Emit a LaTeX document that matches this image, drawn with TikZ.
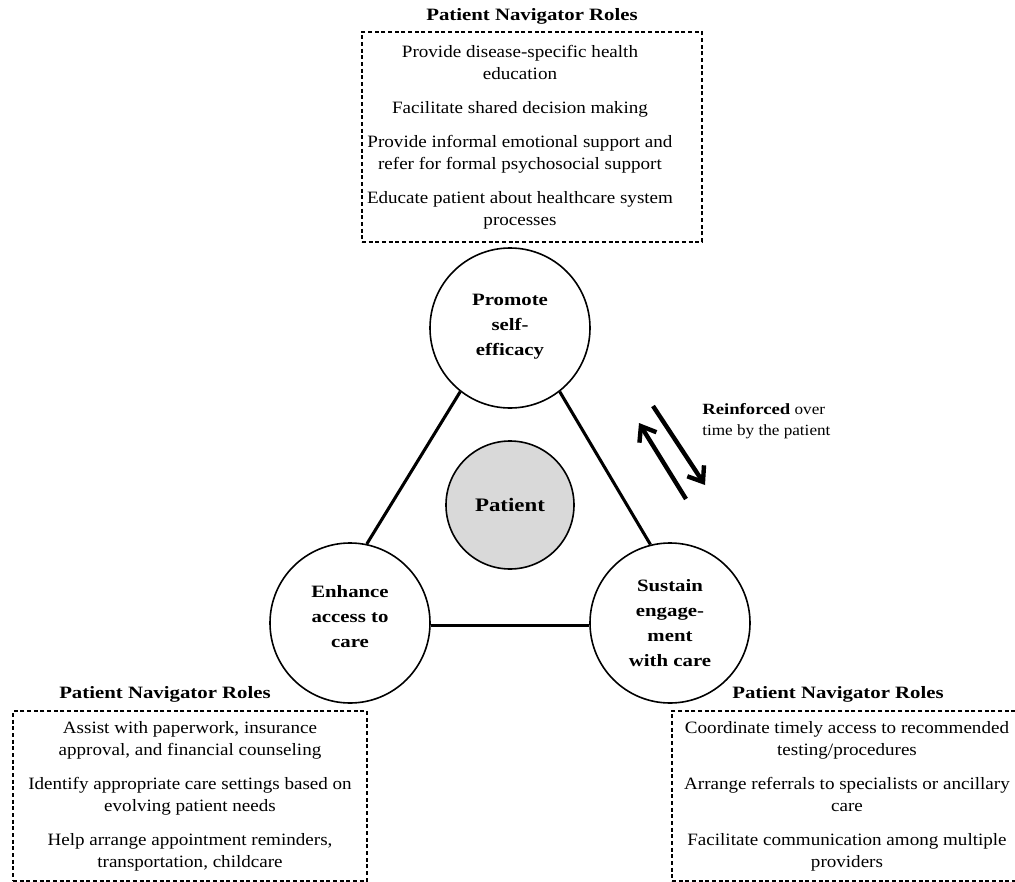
\documentclass[tikz,border=0pt]{standalone}
\usepackage{fontspec}
\setmainfont{Liberation Serif}[UprightFeatures={FakeStretch=1.1}, BoldFeatures={FakeStretch=1.2}]
\usetikzlibrary{arrows.meta}
\tikzset{
  circ/.style={circle, draw, line width=1.2pt, minimum size=120pt, inner sep=0pt, align=center, font=\fontsize{13}{18.75}\selectfont\bfseries},
  link/.style={line width=2.3pt},
  dashbox/.style={draw, dash pattern=on 3pt off 2pt, line width=0.9pt, inner sep=0pt},
  boxtext/.style={align=center, inner sep=0pt, font=\fontsize{13}{16.5}\selectfont},
  boxtitle/.style={font=\fontsize{13}{16}\selectfont\bfseries},
  reinf/.style={line width=3.3pt, -{Straight Barb[length=10pt,width=15pt]}},
}
\begin{document}
\begin{tikzpicture}[x=0.75pt,y=-0.75pt]
\useasboundingbox (0,0) rectangle (1015,882);
% titles
\node[boxtitle] (t1) at (532,16) {Patient Navigator Roles};
\node[boxtitle] (t2) at (165,694) {Patient Navigator Roles};
\node[boxtitle] (t3) at (838,694) {Patient Navigator Roles};
% boxes
\node[dashbox, minimum width=255pt, minimum height=157.5pt] (b1) at (532,137) {};
\node[boxtext] (b1t) at (520,137)
 {Provide disease-specific health\\education\\[9pt]
  Facilitate shared decision making\\[9pt]
  Provide informal emotional support and\\refer for formal psychosocial support\\[9pt]
  Educate patient about healthcare system\\processes};
\node[dashbox, minimum width=265.5pt, minimum height=127.5pt] (b2) at (190,796) {};
\node[boxtext] (b2t) at (190,796)
 {Assist with paperwork, insurance\\approval, and financial counseling\\[9pt]
  Identify appropriate care settings based on\\evolving patient needs\\[9pt]
  Help arrange appointment reminders,\\transportation, childcare};
\node[dashbox, minimum width=262.5pt, minimum height=127.5pt] (b3) at (847,796) {};
\node[boxtext] (b3t) at (847,796)
 {Coordinate timely access to recommended\\testing/procedures\\[9pt]
  Arrange referrals to specialists or ancillary\\care\\[9pt]
  Facilitate communication among multiple\\providers};
% circles
\node[circ, text depth=5pt] (top) at (510,328) {Promote\\self-\\efficacy};
\node[circ, text depth=10pt] (left) at (350,623) {Enhance\\access to\\care};
\node[circ] (right) at (670,623) {Sustain\\engage-\\ment\\with care};
\node[circle, draw, line width=1.2pt, fill=black!15, minimum width=96pt, inner sep=0pt,
      font=\fontsize{14.3}{17}\selectfont\bfseries] (patient) at (510,505) {Patient};
% connectors
\draw[link] (top.232) -- (left.78);
\draw[link] (top.308) -- (right.104);
\draw[link] (left.-2) -- (right.182);
% reinforcement arrows
\coordinate (upA) at (686,499);
\coordinate (upB) at (639,423);
\coordinate (dnA) at (653,406);
\coordinate (dnB) at (705,485);
\draw[reinf] (upA) -- (upB);
\draw[reinf] (dnA) -- (dnB);
\node[anchor=north west, align=left, inner sep=0pt, font=\fontsize{11.7}{15.75}\selectfont] (rtxt) at (702,403)
 {\textbf{Reinforced} over\\time by the patient};
\end{tikzpicture}
\end{document}
